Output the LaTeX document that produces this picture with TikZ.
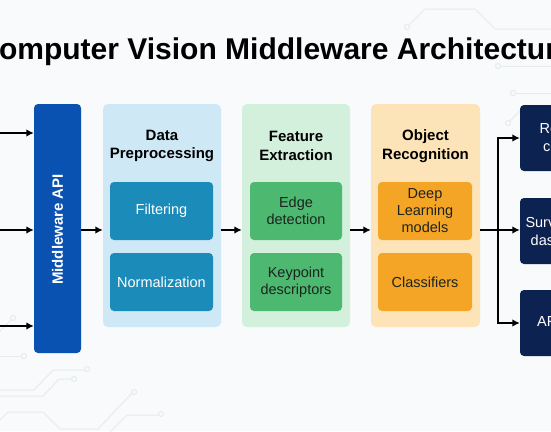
\documentclass[tikz,border=0pt]{standalone}
\usepackage{fontspec}
\setmainfont{Liberation Sans}
\usetikzlibrary{arrows.meta}
\definecolor{bgc}{HTML}{F8FAFB}
\definecolor{apic}{HTML}{0A52B2}
\definecolor{dpp}{HTML}{CFE8F5}
\definecolor{dpi}{HTML}{1B8BBA}
\definecolor{fep}{HTML}{D3F0DC}
\definecolor{fei}{HTML}{4DB86F}
\definecolor{orp}{HTML}{FDE4B8}
\definecolor{ori}{HTML}{F5A526}
\definecolor{outc}{HTML}{0C2352}
\definecolor{circ}{HTML}{E6EBEE}
\definecolor{darktxt}{HTML}{1C2420}
\tikzset{
  panel/.style={rectangle, rounded corners=5pt, minimum height=223pt, inner sep=0pt},
  inner/.style={rectangle, rounded corners=4pt, minimum height=58pt, inner sep=0pt, align=center, font=\fontsize{14.5}{17}\selectfont},
  ptitle/.style={align=center, font=\bfseries\fontsize{15}{18.5}\selectfont, text=black},
  outbox/.style={rectangle, rounded corners=4pt, fill=outc, minimum width=90pt, minimum height=66pt, inner sep=0pt, align=center, text=white, font=\fontsize{14.5}{18}\selectfont},
  arr/.style={line width=1.4pt, -{Latex[length=7.5pt,width=7.5pt]}},
  wire/.style={line width=1.4pt},
  trace/.style={circ, line width=1pt},
  pad/.style={circle, draw=circ, line width=1pt, fill=bgc, minimum size=5pt, inner sep=0pt}
}
\begin{document}
\begin{tikzpicture}[x=1pt,y=-1pt]
\useasboundingbox (0,0) rectangle (551,431);
\clip (0,0) rectangle (551,431);
\fill[bgc] (0,0) rectangle (551,431);
% circuit traces
\draw[trace] (0,356) -- (22,356);
\node[pad] at (24,356) {};
\draw[trace] (0,390) -- (34,390) -- (53,370) -- (84,370);
\node[pad] at (87,369) {};
\draw[trace] (0,396) -- (43,396) -- (59,379) -- (72,379);
\node[pad] at (74,379) {};
\draw[trace] (0,420) -- (8,412) -- (43,412) -- (60,429) -- (98,429) -- (132,393);
\node[pad] at (134,392) {};
\draw[trace] (105,437) -- (127,415) -- (159,415);
\node[pad] at (161,414) {};
\draw[trace] (0,331) -- (11,320);
\node[pad] at (13,318) {};
\draw[trace] (409,25) -- (425,9) -- (475,9) -- (495,29) -- (551,29);
\node[pad] at (407,27) {};
\draw[trace] (501,66) -- (551,66);
\node[pad] at (498,66) {};
\draw[trace] (516,93) -- (551,93);
\node[pad] at (513,93) {};
\draw[trace] (510,121) -- (522,109);
\node[pad] at (508,123) {};
% title
\node[anchor=base, font=\bfseries\fontsize{30}{36}\selectfont] (title) at (275.5,59.5) {Computer Vision Middleware Architecture};
% middleware API
\node[rectangle, rounded corners=4pt, fill=apic, minimum width=47pt, minimum height=249pt, inner sep=0pt] (api) at (57.5,228.5) {};
\node[rotate=90, text=white, font=\bfseries\fontsize{15}{18}\selectfont] (apitxt) at (57.5,229.5) {Middleware API};
% panels
\node[panel, fill=dpp, minimum width=118pt] (dp) at (162,215.5) {};
\node[panel, fill=fep, minimum width=108pt] (fe) at (296,215.5) {};
\node[panel, fill=orp, minimum width=109pt] (or) at (425.5,215.5) {};
\node[ptitle] (dpt) at (162,146) {Data\\Preprocessing};
\node[ptitle] (fet) at (296,146) {Feature\\Extraction};
\node[ptitle] (ort) at (425.5,146) {Object\\Recognition};
% inner boxes
\node[inner, fill=dpi, minimum width=103pt, text=white] (filt) at (161.5,211) {Filtering};
\node[inner, fill=dpi, minimum width=103pt, text=white] (norm) at (161.5,282) {Normalization};
\node[inner, fill=fei, minimum width=92pt, text=darktxt] (edge) at (296,211) {Edge\\detection};
\node[inner, fill=fei, minimum width=92pt, text=darktxt] (key) at (296,282) {Keypoint\\descriptors};
\node[inner, fill=ori, minimum width=94pt, text=darktxt] (deep) at (425,211) {Deep\\Learning\\models};
\node[inner, fill=ori, minimum width=94pt, text=darktxt] (cls) at (425,282) {Classifiers};
% outputs
\node[outbox] (o1) at (565,138) {Remote\\control};
\node[outbox] (o2) at (565,231) {Surveillance\\dashboard};
\node[outbox] (o3) at (565,323) {AR apps};
% inputs
\coordinate (in1) at (0,133);
\coordinate (in2) at (0,230);
\coordinate (in3) at (0,326);
\draw[arr] (in1) -- (in1 -| api.west);
\draw[arr] (in2) -- (in2 -| api.west);
\draw[arr] (in3) -- (in3 -| api.west);
% flow
\draw[arr] (in2 -| api.east) -- (in2 -| dp.west);
\draw[arr] (in2 -| dp.east) -- (in2 -| fe.west);
\draw[arr] (in2 -| fe.east) -- (in2 -| or.west);
\coordinate (j) at (498,230);
\draw[wire] (in2 -| or.east) -- (j);
\draw[arr] (j) -- (j |- o1.west) -- (o1.west);
\draw[arr] (j) -- (o2.west |- j);
\draw[arr] (j) -- (j |- o3.west) -- (o3.west);
\end{tikzpicture}
\end{document}
